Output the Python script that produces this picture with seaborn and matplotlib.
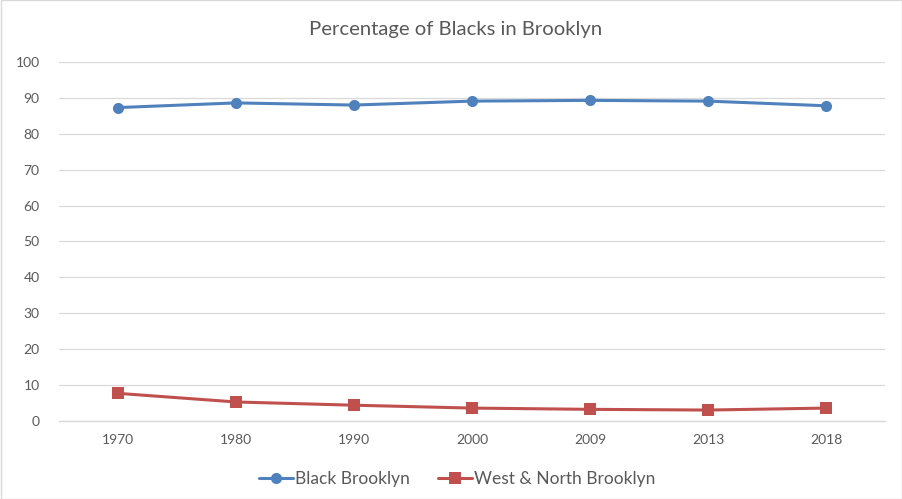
import matplotlib
matplotlib.use("Agg")
import matplotlib.pyplot as plt
import seaborn as sns
import pandas as pd

years = ["1970", "1980", "1990", "2000", "2009", "2013", "2018"]
black_brooklyn = [87.3, 88.6, 88.0, 89.1, 89.3, 89.1, 87.8]
west_north_brooklyn = [7.7, 5.3, 4.4, 3.6, 3.25, 3.05, 3.6]
series_names = ["Black Brooklyn", "West & North Brooklyn"]
title = "Percentage of Blacks in Brooklyn"

sns.set_theme(style="white")
plt.rcParams['font.family'] = ['Lato', 'DejaVu Sans']

df = pd.DataFrame({
    "year": years * 2,
    "pct": black_brooklyn + west_north_brooklyn,
    "series": [series_names[0]] * len(years) + [series_names[1]] * len(years),
})

fig = plt.figure(figsize=(9.03, 4.99), dpi=100)
ax = fig.add_axes([0.0653, 0.1563, 0.9147, 0.7195])

palette = {series_names[0]: "#4F81BD", series_names[1]: "#C0504D"}
sns.lineplot(data=df, x="year", y="pct", hue="series", style="series",
             markers={series_names[0]: "o", series_names[1]: "s"},
             dashes=False, palette=palette, linewidth=2.2, markersize=8,
             markeredgewidth=0, ax=ax, sort=False)

ax.set_xlim(-0.5, len(years) - 0.5)
ax.set_ylim(0, 100)
ax.set_yticks(range(0, 101, 10))
ax.yaxis.grid(True, color="#D9D9D9", linewidth=0.9)
ax.set_axisbelow(True)
for s in ["top", "right", "left"]:
    ax.spines[s].set_visible(False)
ax.spines["bottom"].set_color("#D9D9D9")
ax.spines["bottom"].set_linewidth(1.0)
ax.tick_params(axis="both", length=0, colors="#595959", labelsize=10)
ax.tick_params(axis="y", pad=14)
ax.tick_params(axis="x", pad=9)
ax.set_xlabel("")
ax.set_ylabel("")

fig.text(0.505, 0.94, title, ha="center", va="center", fontsize=14.6, color="#595959")

handles, labels = ax.get_legend_handles_labels()
ax.legend(handles, labels, loc="center", bbox_to_anchor=(0.482, -0.162),
          ncol=2, frameon=False, fontsize=12.5, labelcolor="#595959",
          handlelength=2.0, handletextpad=0.1, columnspacing=1.6)

fig.patches.append(plt.Rectangle((0.001, 0.001), 0.998, 0.998, transform=fig.transFigure,
                                 fill=False, edgecolor="#D9D9D9", linewidth=1))

fig.savefig("out.png", dpi=100, facecolor="white")
